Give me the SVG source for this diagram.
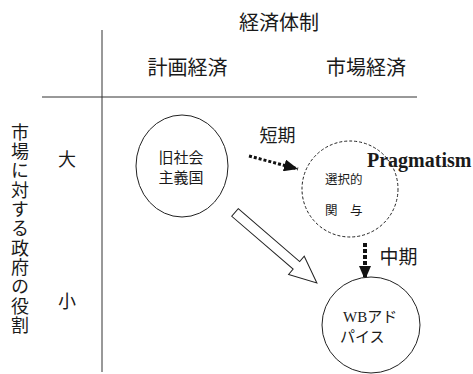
<svg xmlns="http://www.w3.org/2000/svg" width="473" height="374" viewBox="0 0 473 374">
<style>
.j{font-family:"Noto Sans CJK JP","Noto Sans",sans-serif;fill:#1a1a1a}
.s{font-family:"Liberation Serif","Times New Roman",serif;fill:#1a1a1a}
.ax{stroke:#333;stroke-width:1;fill:none}
.n{fill:#fff;stroke:#222;stroke-width:1}
</style>
<defs>
<marker id="ah" viewBox="0 0 14 12" refX="14" refY="6" markerWidth="14" markerHeight="12" markerUnits="userSpaceOnUse" orient="auto">
<path d="M0,0 L14,6 L0,12 Z" fill="#111"/>
</marker>
</defs>
<rect width="473" height="374" fill="#fff"/>
<g id="axes">
<line class="ax" x1="102" y1="30" x2="102" y2="372"/>
<line class="ax" x1="42" y1="97" x2="417" y2="97"/>
</g>
<g id="labels">
<text class="j" x="279" y="30" font-size="20" text-anchor="middle">経済体制</text>
<text class="j" x="187.5" y="75" font-size="20" text-anchor="middle">計画経済</text>
<text class="j" x="366" y="75" font-size="20" text-anchor="middle">市場経済</text>
<text class="j" x="67" y="165.5" font-size="18" text-anchor="middle">大</text>
<text class="j" x="67" y="307.5" font-size="18" text-anchor="middle">小</text>
<text class="j" x="20" y="123" font-size="18" letter-spacing="1.3" style="writing-mode:vertical-rl">市場に対する政府の役割</text>
</g>
<g id="connectors">
<line x1="249" y1="156" x2="298" y2="169" stroke="#111" stroke-width="3" stroke-dasharray="3 2" marker-end="url(#ah)"/>
<line x1="365" y1="243" x2="365" y2="280" stroke="#111" stroke-width="4" stroke-dasharray="4 2" marker-end="url(#ah)"/>
<polygon points="0,-5 81,-5 81,-12 108,0 81,12 81,5 0,5" transform="translate(235,212.5) rotate(40.7)" fill="#fff" stroke="#222" stroke-width="1"/>
<text class="j" x="277.5" y="141.5" font-size="18" text-anchor="middle">短期</text>
<text class="j" x="398.5" y="264" font-size="19" text-anchor="middle">中期</text>
</g>
<g id="node-old">
<ellipse class="n" cx="182" cy="166" rx="46" ry="51"/>
<text class="j" font-size="15" text-anchor="middle"><tspan x="181" y="163">旧社会</tspan><tspan x="181" y="182.5">主義国</tspan></text>
</g>
<g id="node-select">
<circle cx="350" cy="189" r="48" fill="none" stroke="#222" stroke-width="1" stroke-dasharray="3 2"/>
<text class="j" font-size="12.5"><tspan x="325" y="184">選択的</tspan><tspan x="325" y="214.5">関　与</tspan></text>
<text class="s" x="367" y="167" font-size="20" font-weight="bold">Pragmatism</text>
</g>
<g id="node-wb">
<ellipse class="n" cx="371" cy="325" rx="49" ry="48"/>
<text font-size="15"><tspan class="s" x="343" y="322">WB</tspan><tspan class="j">アド</tspan><tspan class="j" x="340" y="341.5">パイス</tspan></text>
</g>
</svg>
